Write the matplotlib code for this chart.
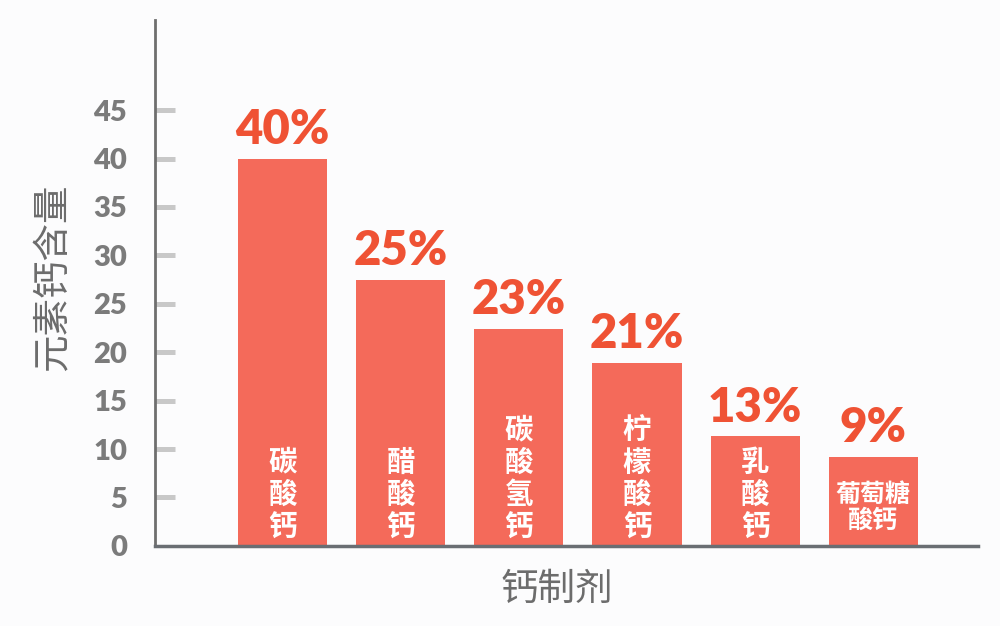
import matplotlib
matplotlib.use('Agg')
import matplotlib.pyplot as plt

plt.rcParams['font.family'] = ['Noto Sans CJK SC', 'DejaVu Sans']

# 数据：钙制剂及元素钙含量（柱高按图上刻度读取，标签为图中标注的百分比）
calcium_names = ['碳\n酸\n钙', '醋\n酸\n钙', '碳\n酸\n氢\n钙', '柠\n檬\n酸\n钙', '乳\n酸\n钙', '葡萄糖\n酸钙']
bar_heights = [40.0, 27.5, 22.4, 18.9, 11.3, 9.2]
pct_labels = ['40%', '25%', '23%', '21%', '13%', '9%']
y_ticks = [0, 5, 10, 15, 20, 25, 30, 35, 40, 45]

bar_color = '#f46a5a'
text_red = '#ef5234'
gray_txt = '#7b7b7b'

fig = plt.figure(figsize=(10, 6.26), dpi=100, facecolor='#fcfcfd')
ax = fig.add_axes([0.155, 0.128, 0.823, 0.84])
ax.set_facecolor('#fcfcfd')

x = list(range(len(bar_heights)))
ax.bar(x, bar_heights, width=0.755, color=bar_color, zorder=2)

for i in x:
    # 柱顶百分比
    ax.text(x[i], bar_heights[i] + 0.7, pct_labels[i], ha='center', va='bottom',
            fontsize=34, fontweight='heavy', color=text_red,
            family=['Lato', 'DejaVu Sans'], zorder=3)
    # 柱内名称
    if i == len(x) - 1:
        ax.text(x[i], 1.4, calcium_names[i], ha='center', va='bottom', fontsize=18,
                fontweight='heavy', color='white', linespacing=1.05, zorder=3)
    else:
        ax.text(x[i], 0.45, calcium_names[i], ha='center', va='bottom', fontsize=20.5,
                fontweight='heavy', color='white', linespacing=1.2, zorder=3)

ax.set_xlim(-1.08, 5.886)
ax.set_ylim(0, 54.3)
ax.set_xticks([])
ax.set_yticks(y_ticks)
ax.set_yticklabels([str(t) for t in y_ticks], family=['Lato', 'DejaVu Sans'],
                   fontweight='heavy', fontsize=21, color=gray_txt)
ax.tick_params(axis='y', direction='in', length=14.5, width=3.6, color='#c8c8c8', pad=20)
ax.yaxis.get_major_ticks()[0].tick1line.set_visible(False)

for s in ['top', 'right']:
    ax.spines[s].set_visible(False)
ax.spines['left'].set_color('#6e6e6e')
ax.spines['left'].set_linewidth(2)
ax.spines['bottom'].set_color('#6a6e73')
ax.spines['bottom'].set_linewidth(2.5)
ax.spines['bottom'].set_zorder(4)

ax.set_ylabel('元素钙含量', fontsize=27, fontweight='medium', color='#6c6c6c')
ax.yaxis.set_label_coords(-0.100, 0.51)
ax.set_xlabel('钙制剂', fontsize=27, fontweight='medium', color='#6c6c6c')
ax.xaxis.set_label_coords(0.488, -0.046)

fig.savefig('out.png', dpi=100, facecolor=fig.get_facecolor())
